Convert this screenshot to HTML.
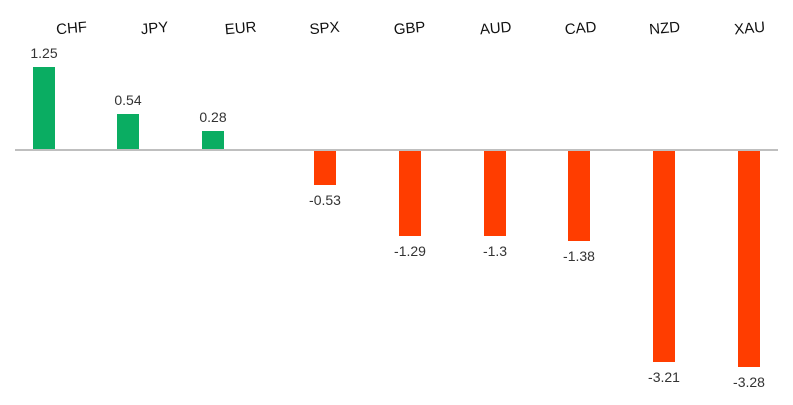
<!DOCTYPE html>
<html><head><meta charset="utf-8"><style>
html,body{margin:0;padding:0;background:#fff;}
svg{display:block;font-family:"Liberation Sans",sans-serif;}
</style></head><body>
<svg width="793" height="405" viewBox="0 0 793 405" xmlns="http://www.w3.org/2000/svg">
<g font-size="15" fill="#111" text-anchor="middle">
<text transform="translate(72,33) rotate(-5)">CHF</text>
<text transform="translate(155,33) rotate(-5)">JPY</text>
<text transform="translate(241,33) rotate(-5)">EUR</text>
<text transform="translate(325,33) rotate(-5)">SPX</text>
<text transform="translate(410,33) rotate(-5)">GBP</text>
<text transform="translate(496,33) rotate(-5)">AUD</text>
<text transform="translate(581,33) rotate(-5)">CAD</text>
<text transform="translate(665,33) rotate(-5)">NZD</text>
<text transform="translate(750,33) rotate(-5)">XAU</text>
</g>
<g fill="#0aad62">
<rect x="33" y="67" width="22" height="83"/>
<rect x="117" y="114" width="22" height="36"/>
<rect x="202" y="131" width="22" height="19"/>
</g>
<g fill="#ff3d00">
<rect x="314" y="151" width="22" height="34"/>
<rect x="399" y="151" width="22" height="85"/>
<rect x="484" y="151" width="22" height="85"/>
<rect x="568" y="151" width="22" height="90"/>
<rect x="653" y="151" width="22" height="211"/>
<rect x="738" y="151" width="22" height="216"/>
</g>
<line x1="15" y1="150" x2="778" y2="150" stroke="#bfbfbf" stroke-width="2"/>
<g font-size="14" fill="#333" text-anchor="middle">
<text x="44" y="58">1.25</text>
<text x="128" y="105">0.54</text>
<text x="213" y="122">0.28</text>
<text x="325" y="205">-0.53</text>
<text x="410" y="256">-1.29</text>
<text x="495" y="256">-1.3</text>
<text x="579" y="261">-1.38</text>
<text x="664" y="382">-3.21</text>
<text x="749" y="387">-3.28</text>
</g>
</svg>
</body></html>
